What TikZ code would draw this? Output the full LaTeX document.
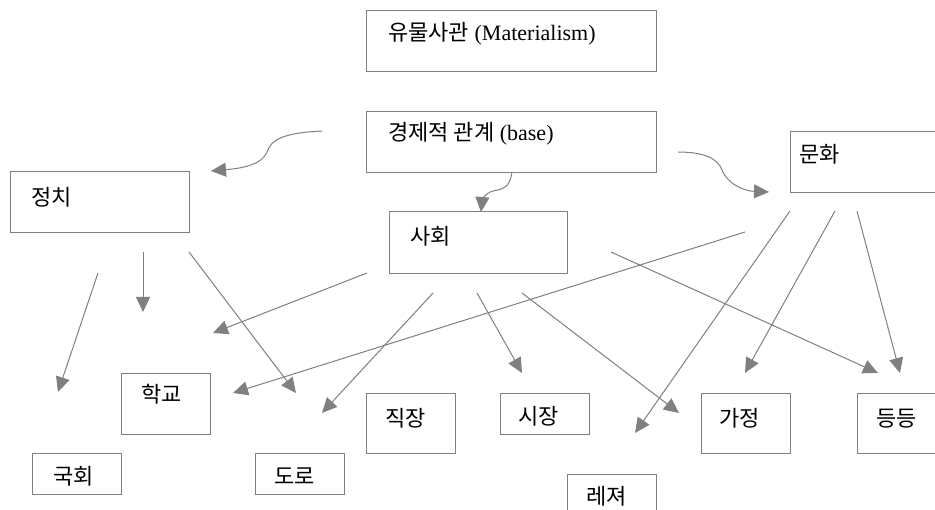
\documentclass[tikz,border=0pt]{standalone}
\usepackage{fontspec}
\setmainfont{Liberation Serif}
\newfontfamily\kr{Noto Sans CJK KR}
\usetikzlibrary{arrows.meta}
\definecolor{linegray}{HTML}{808080}
\begin{document}
\begin{tikzpicture}[x=1pt,y=-1pt,
  box/.style={draw=linegray, line width=1.1pt, inner sep=0pt, anchor=north west},
  txt/.style={anchor=base west, inner sep=0pt, font=\fontsize{22}{26}\selectfont},
  arr/.style={draw=linegray, line width=1pt, -{Triangle[length=15pt,width=14pt]}, fill=none},
  every path/.append style={line join=miter}]
\useasboundingbox (0,0) rectangle (935,510);
\fill[white] (0,0) rectangle (935,510);
% boxes
\node[box, minimum width=290pt, minimum height=61pt] (mat) at (366,10) {};
\node[box, minimum width=290pt, minimum height=61pt] (base) at (366,111) {};
\node[box, minimum width=150pt, minimum height=61pt] (mun) at (790,131) {};
\node[box, minimum width=179pt, minimum height=61pt] (jeong) at (10,171) {};
\node[box, minimum width=178pt, minimum height=62pt] (sa) at (389,211) {};
\node[box, minimum width=89pt, minimum height=61pt] (hak) at (121,373) {};
\node[box, minimum width=89pt, minimum height=41pt] (guk) at (32,453) {};
\node[box, minimum width=89pt, minimum height=41pt] (doro) at (255,453) {};
\node[box, minimum width=89pt, minimum height=60pt] (jik) at (366,393) {};
\node[box, minimum width=89pt, minimum height=41pt] (si) at (500,393) {};
\node[box, minimum width=89pt, minimum height=50pt] (le) at (567,474) {};
\node[box, minimum width=89pt, minimum height=60pt] (ga) at (701,393) {};
\node[box, minimum width=89pt, minimum height=60pt] (deung) at (857,393) {};
% texts
\node[txt] (matT) at (388,41) {{\kr 유물사관} (Materialism)};
\node[txt] (baseT) at (388,141) {{\kr 경제적 관계} (base)};
\node[txt] (munT) at (799,163) {\kr 문화};
\node[txt] (jeongT) at (31,206) {\kr 정치};
\node[txt] (saT) at (410,245) {\kr 사회};
\node[txt] (hakT) at (141,403) {\kr 학교};
\node[txt] (gukT) at (53,485) {\kr 국회};
\node[txt] (doroT) at (274,485) {\kr 도로};
\node[txt] (jikT) at (385,427) {\kr 직장};
\node[txt] (siT) at (518,425) {\kr 시장};
\node[txt] (leT) at (586,505) {\kr 레져};
\node[txt] (gaT) at (719,427) {\kr 가정};
\node[txt] (deungT) at (876,427) {\kr 등등};
% arrow end points
\coordinate (c1s) at (322,131); \coordinate (c1m) at (267,152); \coordinate (c1e) at (211,171);
\coordinate (c2s) at (512,172); \coordinate (c2m) at (493,191); \coordinate (c2e) at (481,212);
\coordinate (c3s) at (678,152); \coordinate (c3m) at (722,170); \coordinate (c3e) at (769,192);
\coordinate (s1a) at (98,273);  \coordinate (s1b) at (58,392);
\coordinate (s2a) at (143,252); \coordinate (s2b) at (143,312);
\coordinate (s3a) at (189,252); \coordinate (s3b) at (296,393);
\coordinate (s4a) at (367,273); \coordinate (s4b) at (213,333);
\coordinate (s5a) at (433,293); \coordinate (s5b) at (322,413);
\coordinate (s6a) at (477,293); \coordinate (s6b) at (522,373);
\coordinate (s7a) at (522,293); \coordinate (s7b) at (679,413);
\coordinate (s8a) at (611,252); \coordinate (s8b) at (878,373);
\coordinate (s9a) at (745,232); \coordinate (s9b) at (233,393);
\coordinate (s10a) at (790,211); \coordinate (s10b) at (635,433);
\coordinate (s11a) at (835,211); \coordinate (s11b) at (745,373);
\coordinate (s12a) at (857,211); \coordinate (s12b) at (900,373);
% curved arrows
\draw[arr] (c1s) .. controls (282,133) and (271,140) .. (c1m) .. controls (262,164) and (245,168) .. (c1e);
\draw[arr] (c2s) .. controls (510,186) and (505,189) .. (c2m) .. controls (485,193) and (482,201) .. (c2e);
\draw[arr] (c3s) .. controls (705,152) and (718,159) .. (c3m) .. controls (728,185) and (745,191) .. (c3e);
% straight arrows
\foreach \i in {1,...,12} { \draw[arr] (s\i a) -- (s\i b); }
\end{tikzpicture}
\end{document}
